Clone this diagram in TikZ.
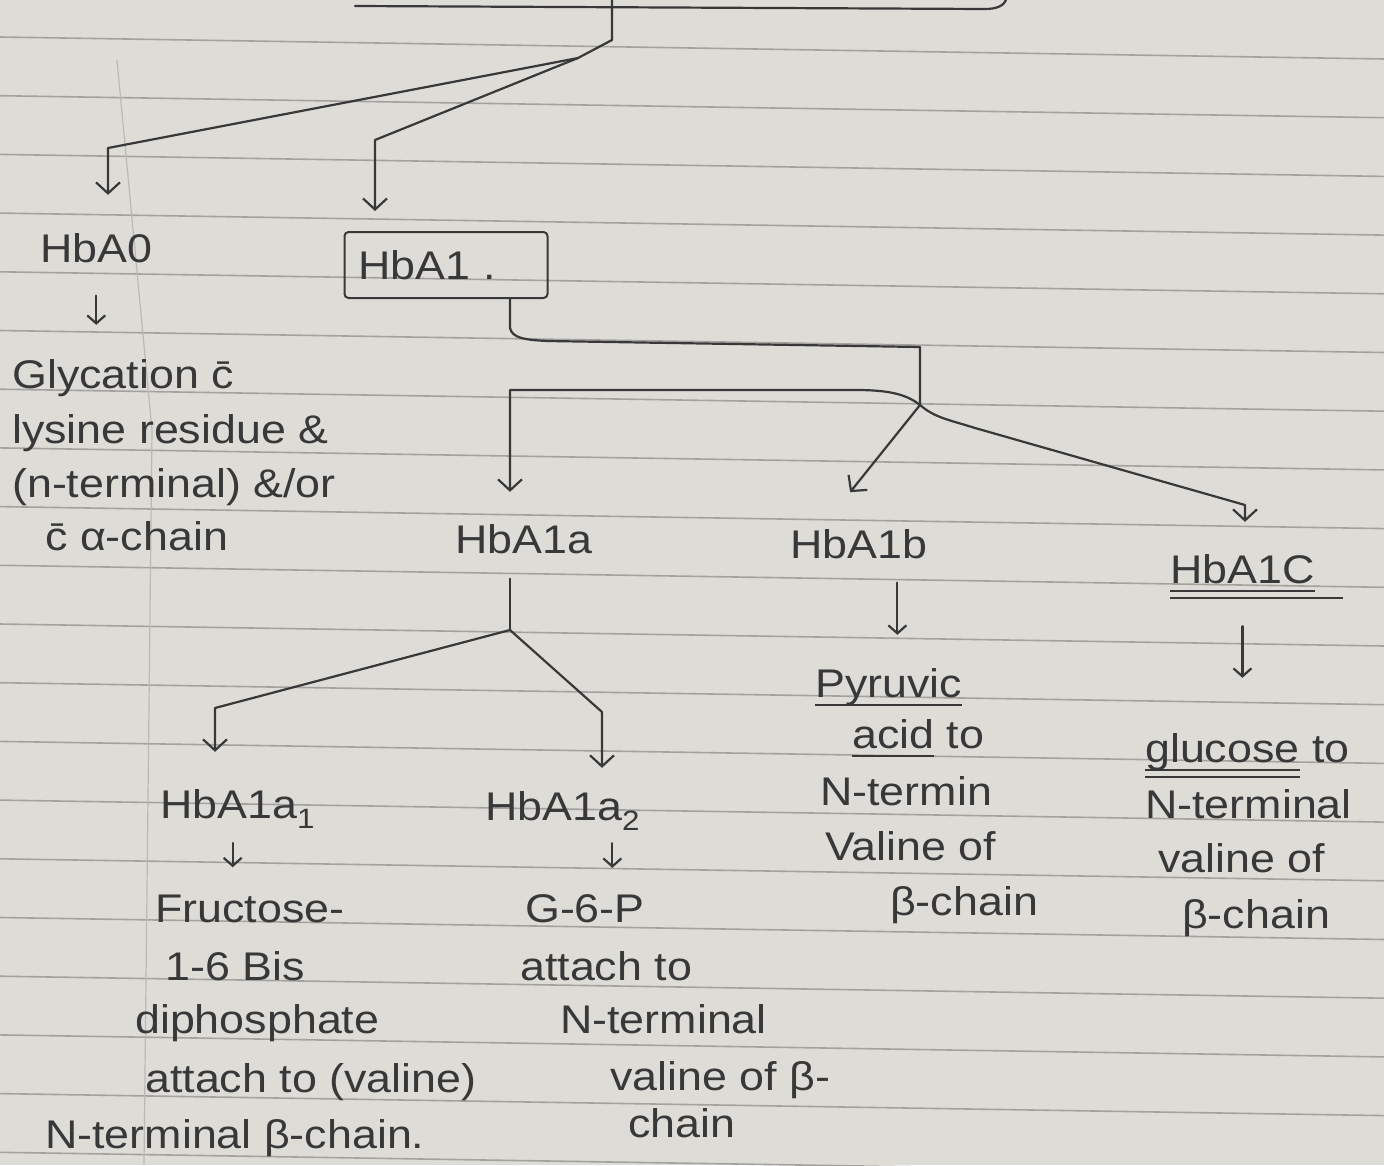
\documentclass[tikz,border=0pt]{standalone}
\usepackage{fontspec}
\setmainfont[FakeStretch=1.12]{Liberation Sans}
\usetikzlibrary{arrows.meta,calc}
\definecolor{paper}{HTML}{DDDCD7}
\definecolor{ruling}{HTML}{A3A29E}
\definecolor{ink}{HTML}{383838}
\newcommand\inkul[1]{\sbox0{#1}\rlap{\rule[-9pt]{\wd0}{2pt}}\usebox0}
\newcommand\inkuu[2]{\sbox0{#1}\rlap{\rule[-9pt]{\wd0}{2pt}}\rlap{\rule[-16pt]{\dimexpr\wd0+#2\relax}{2pt}}\usebox0}
\begin{document}
\begin{tikzpicture}[x=1pt,y=-1pt,
  txt/.style={anchor=base west,inner sep=0pt,text=ink,font=\fontsize{40}{48}\selectfont},
  hbox/.style={draw=ink,line width=2pt,rounded corners=4pt,text=ink,font=\fontsize{40}{48}\selectfont,minimum width=203pt,minimum height=66pt,text width=175pt,align=left,inner xsep=14pt,inner ysep=0pt},
  conn/.style={draw=ink,line width=2.2pt,line join=round,line cap=round},
  arr/.style={conn,-{Straight Barb[length=11pt,width=24pt,line width=2.2pt]}},
  sarr/.style={conn,-{Straight Barb[length=8pt,width=18pt,line width=2.2pt]}},
  ruleline/.style={draw=ruling,line width=1.6pt}]
\fill[paper] (0,0) rectangle (1384,1165);
\useasboundingbox (0,0) rectangle (1384,1165);
\foreach \k in {0,...,19} {\draw[ruleline] (0,{37+58.7*\k}) -- (1384,{59+58.7*\k});}
\draw[ruling!60!paper,line width=1.2pt] (117,60) -- (152,430) -- (144,1165);

% top bracket (source cut off)
\draw[conn] (355,6) -- (985,9) .. controls (998,9) and (1004,5) .. (1006,0);
\coordinate (top) at (612,0);
\coordinate (j1) at (578,58);
\coordinate (b0) at (108,148);
\coordinate (b1) at (375,140);

% level 1
\node[txt] (hba0) at (40,262) {HbA0};
\node[hbox] (hba1) at (446,265) {HbA1 .};

\draw[conn] (top) -- (612,40) -- (j1);
\draw[arr,shorten >=38pt] (j1) -- (b0) -- (b0 |- hba0.north);
\draw[arr,shorten >=20pt] (j1) -- (b1) -- (b1 |- hba1.north);

% HbA0 description
\node[txt] (gly1) at (12,388) {Glycation c̄};
\node[txt] (gly2) at (12,443) {lysine residue \&};
\node[txt] (gly3) at (12,497) {(n-terminal) \&/or};
\node[txt] (gly4) at (45,550) {c̄ α-chain};
\draw[sarr,shorten <=33pt,shorten >=34pt] ([xshift=0pt]hba0.south) -- ([xshift=0pt]hba0.south |- gly1.north);

% level 2
\node[txt] (hba1a) at (455,553) {HbA1a};
\node[txt] (hba1b) at (790,558) {HbA1b};
\node[txt] (hba1c) at (1170,583) {\inkuu{HbA1C}{28pt}};
\coordinate (h1) at (510,328);
\coordinate (j2) at (920,405);
\coordinate (c1a) at (510,390);
\coordinate (c1c) at (1245,505);
\draw[conn] (hba1.south -| h1) -- (h1) .. controls (512,338) and (525,340) .. (548,341) -- (920,347) -- (j2);
\draw[arr,shorten >=32pt] (j2) .. controls (905,393) and (885,390) .. (855,390) -- (c1a) -- (c1a |- hba1a.north);
\draw[arr,shorten >=47pt] (j2) -- ([xshift=-38pt]hba1b.north);
\draw[arr,shorten >=32pt] (j2) .. controls (935,418) and (950,420) .. (975,428) -- (c1c) -- (c1c |- hba1c.north);

% level 3 under HbA1a
\node[txt] (hba1a1) at (160,818) {HbA1a\textsubscript{1}};
\node[txt] (hba1a2) at (485,820) {HbA1a\textsubscript{2}};
\coordinate (j3) at (510,630);
\coordinate (c2a) at (215,708);
\coordinate (c2b) at (602,712);
\draw[conn,shorten <=25pt] (hba1a.south -| j3) -- (j3);
\draw[arr,shorten >=37pt] (j3) -- (c2a) -- (c2a |- hba1a1.north);
\draw[arr,shorten >=23pt] (j3) -- (c2b) -- (c2b |- hba1a2.north);

% HbA1a1 description
\node[txt] (fr1) at (155,922) {Fructose-};
\node[txt] (fr2) at (165,980) {1-6 Bis};
\node[txt] (fr3) at (135,1033) {diphosphate};
\node[txt] (fr4) at (145,1092) {attach to (valine)};
\node[txt] (fr5) at (45,1148) {N-terminal β-chain.};
\draw[sarr,shorten <=14pt,shorten >=27pt] ([xshift=-5pt]hba1a1.south) -- ([xshift=-5pt]hba1a1.south |- fr1.north);

% HbA1a2 description
\node[txt] (gp1) at (525,922) {G-6-P};
\node[txt] (gp2) at (520,980) {attach to};
\node[txt] (gp3) at (560,1033) {N-terminal};
\node[txt] (gp4) at (610,1090) {valine of β-};
\node[txt] (gp5) at (628,1137) {chain};
\draw[sarr,shorten <=12pt,shorten >=26pt] ([xshift=-28pt]hba1a2.south east) -- ([xshift=-28pt]hba1a2.south east |- gp1.north);

% HbA1b description
\node[txt] (py1) at (815,697) {\inkul{Pyruvic}};
\node[txt] (py2) at (852,748) {\inkul{acid} to};
\node[txt] (py3) at (820,805) {N-termin};
\node[txt] (py4) at (825,860) {Valine of};
\node[txt] (py5) at (890,915) {β-chain};
\draw[sarr,shorten <=24pt,shorten >=33pt] ([xshift=-30pt]hba1b.south east) -- ([xshift=-30pt]hba1b.south east |- py1.north);

% HbA1c description
\node[txt] (gl1) at (1145,762) {\inkuu{glucose}{0pt} to};
\node[txt] (gl2) at (1145,818) {N-terminal};
\node[txt] (gl3) at (1158,872) {valine of};
\node[txt] (gl4) at (1182,928) {β-chain};
\draw[sarr,shorten <=27pt,shorten >=55pt] (hba1c.south) -- (hba1c.south |- gl1.north);
\end{tikzpicture}
\end{document}
